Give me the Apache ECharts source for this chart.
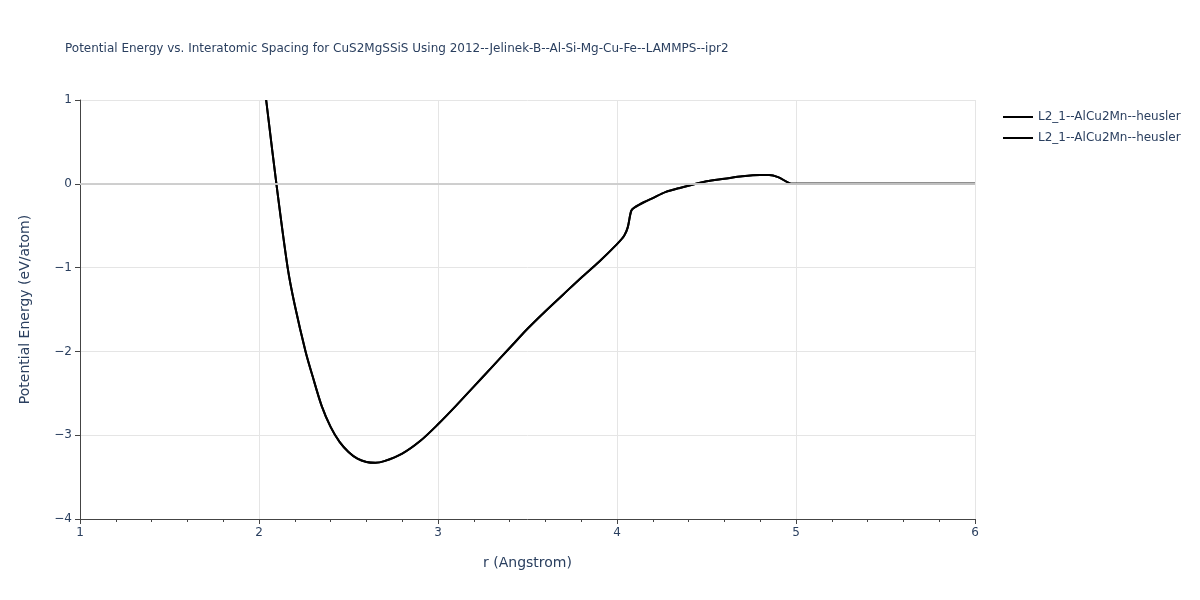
<!DOCTYPE html>
<html><head><meta charset="utf-8">
<script src="https://cdn.jsdelivr.net/npm/echarts@6/dist/echarts.min.js"></script>
<style>html,body{margin:0;padding:0;background:#fff}#c{width:1200px;height:600px}</style>
</head><body><div id="c"></div>
<script>
const rValues = [2.04,2.1,2.16,2.2,2.26,2.3,2.35,2.4,2.45,2.5,2.55,2.6,2.65,2.7,2.8,2.9,3.0,3.1,3.2,3.3,3.4,3.5,3.6,3.7,3.8,3.9,4.0,4.04,4.06,4.08,4.1,4.15,4.2,4.27,4.35,4.5,4.6,4.7,4.8,4.85,4.9,4.98,5.0,6.0];
const energies = [1.0,-0.05,-1.0,-1.45,-2.0,-2.3,-2.65,-2.9,-3.08,-3.2,-3.28,-3.32,-3.33,-3.31,-3.22,-3.07,-2.87,-2.65,-2.42,-2.19,-1.96,-1.73,-1.52,-1.32,-1.12,-0.93,-0.72,-0.62,-0.52,-0.32,-0.28,-0.22,-0.17,-0.1,-0.05,0.03,0.06,0.09,0.105,0.105,0.08,0.0,0.0,0.0];
const seriesNames = ["L2_1--AlCu2Mn--heusler","L2_1--AlCu2Mn--heusler "];
const pts = rValues.map((r,i)=>[r,energies[i]]);
const font = '"DejaVu Sans", sans-serif';
const chart = echarts.init(document.getElementById('c'));
chart.setOption({
  animation:false,
  title:{text:'Potential Energy vs. Interatomic Spacing for CuS2MgSSiS Using 2012--Jelinek-B--Al-Si-Mg-Cu-Fe--LAMMPS--ipr2',left:60,top:38,textStyle:{fontFamily:font,fontSize:12,fontWeight:'normal',color:'#2a3f5f'}},
  legend:{orient:'vertical',left:998,top:106,itemGap:9,itemWidth:30,icon:'path://M0,0L30,0L30,2L0,2Z',textStyle:{fontFamily:font,fontSize:12,color:'#2a3f5f'},data:seriesNames},
  grid:{left:80,right:225,top:100,bottom:81},
  xAxis:{type:'value',min:1,max:6,interval:1,name:'r (Angstrom)',nameLocation:'middle',nameGap:37,
    nameTextStyle:{fontFamily:font,fontSize:14,color:'#2a3f5f'},
    axisLine:{show:true,onZero:false,lineStyle:{color:'#444'}},axisTick:{show:true,length:5,lineStyle:{color:'#444'}},
    minorTick:{show:true,splitNumber:5,length:3,lineStyle:{color:'#444'}},
    axisLabel:{fontFamily:font,fontSize:12,color:'#2a3f5f'},splitLine:{show:true,lineStyle:{color:'#e5e5e5'}}},
  yAxis:{type:'value',min:-4,max:1,interval:1,name:'Potential Energy (eV/atom)',nameLocation:'middle',nameGap:48,
    nameTextStyle:{fontFamily:font,fontSize:14,color:'#2a3f5f'},
    axisLine:{show:true,onZero:false,lineStyle:{color:'#444'}},axisTick:{show:true,length:5,lineStyle:{color:'#444'}},
    axisLabel:{fontFamily:font,fontSize:12,color:'#2a3f5f',formatter:v=>v<0?'\u2212'+(-v):''+v},
    splitLine:{show:true,lineStyle:{color:'#e5e5e5'}}},
  series:seriesNames.map(n=>({name:n,type:'line',data:pts,showSymbol:false,smooth:0.3,lineStyle:{color:'#000',width:2},itemStyle:{color:'#000'},
    markLine:{silent:true,symbol:'none',label:{show:false},lineStyle:{color:'#ccc',width:1.5,type:'solid'},data:[{yAxis:0}]}}))
});
</script></body></html>
